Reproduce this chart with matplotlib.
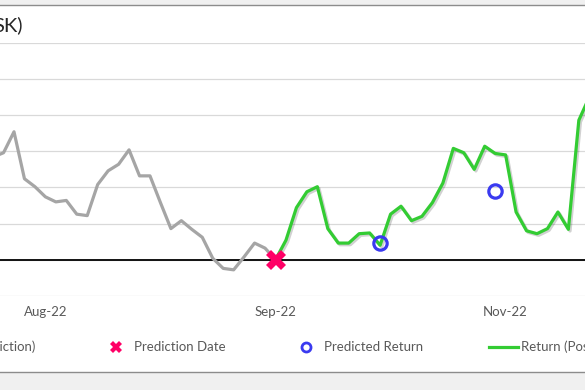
import numpy as np
import matplotlib.pyplot as plt
import matplotlib.patheffects as pe
from matplotlib.lines import Line2D
from matplotlib.patches import Rectangle

plt.rcParams['font.family'] = ['Lato', 'DejaVu Sans']

# ---- data (category index = trading period, returns in %) ----
pre_idx = np.arange(-2, 26)
pre_ret = [14.2, 14.8, 17.7, 11.2, 10.1, 8.7, 8.0, 8.2, 6.3, 6.1, 10.4, 12.3,
           13.2, 15.2, 11.6, 11.6, 7.9, 4.3, 5.4, 4.2, 3.1, 0.2, -1.2, -1.4,
           0.4, 2.3, 1.6, 0.0]

post_idx = np.arange(25, 56)
post_ret = [0.0, 2.7, 7.2, 9.4, 10.1, 4.3, 2.3, 2.3, 3.6, 3.7, 2.0, 6.3, 7.4,
            5.4, 6.0, 7.9, 10.6, 15.4, 14.8, 12.5, 15.7, 14.7, 14.5, 6.6,
            4.0, 3.6, 4.3, 6.6, 4.2, 19.3, 22.5]

pred_date_idx = [25]
pred_date_val = [0.0]

pred_ret_idx = [35, 46]
pred_ret_val = [2.3, 9.5]

tick_idx = [3, 25, 47]
tick_lbl = ['Aug-22', 'Sep-22', 'Nov-22']

GRAY = '#a5a5a5'
GREEN = '#33cc33'
PINK = '#ff0066'
BLUE = '#3a3af0'
TXT = '#595959'

fig = plt.figure(figsize=(5.85, 3.9), dpi=100, facecolor='#f0f0f0')
# chart area frame (cropped left/right)
fig.patches.append(Rectangle((-0.02, 18 / 390), 1.04, 367 / 390, transform=fig.transFigure,
                             facecolor='white', edgecolor='#8c8c8c', lw=1, zorder=-5))

ax = fig.add_axes([0, 0.2414, 1, 0.6487])
ax.set_facecolor('none')
ax.set_xlim(-14 / 10.46, (585 - 14) / 10.46)
ax.set_ylim(-5, 30)
ax.set_yticks(np.arange(-5, 31, 5))
ax.grid(axis='y', color='#d9d9d9', lw=0.9)
ax.set_axisbelow(True)
for s in ax.spines.values():
    s.set_visible(False)
ax.axhline(0, color='black', lw=1.3, zorder=1)
ax.tick_params(axis='y', left=False, labelleft=False)
ax.set_xticks(tick_idx)
ax.set_xticklabels(tick_lbl, color=TXT, fontsize=9.5)
ax.tick_params(axis='x', length=0, pad=7)

ax.plot(pre_idx, pre_ret, color=GRAY, lw=2.3, zorder=3)
ax.plot(post_idx, post_ret, color=GREEN, lw=2.3, zorder=4,
        path_effects=[pe.SimpleLineShadow(offset=(1.2, -1.2), alpha=0.18), pe.Normal()])
ax.plot(pred_date_idx, pred_date_val, 'X', color=PINK, ms=14, mew=0, zorder=6)
ax.plot(pred_ret_idx, pred_ret_val, 'o', mfc='none', mec=BLUE, ms=9.6, mew=2.3, zorder=6)

fig.text(-0.012, 1 - 25.5 / 390, 'SK)', fontsize=14.5, color='#262626', va='center', ha='left')

handles = [Line2D([], [], color=GRAY, lw=2.3),
           Line2D([], [], ls='none', marker='X', color=PINK, ms=9, mew=0),
           Line2D([], [], ls='none', marker='o', mfc='none', mec=BLUE, ms=6.5, mew=2),
           Line2D([], [], color=GREEN, lw=2.3)]
labels = ['Return (Pre-Prediction)', 'Prediction Date', 'Predicted Return', 'Return (Post-Prediction)']
fig.legend(handles, labels, loc='center left', bbox_to_anchor=(-0.2235, 1 - 347 / 390),
           ncol=4, frameon=False, fontsize=9.5, labelcolor=TXT, handlelength=2.2,
           handletextpad=0.2, columnspacing=5.05, borderpad=0, borderaxespad=0)

fig.savefig('out.png', dpi=100, facecolor=fig.get_facecolor())
